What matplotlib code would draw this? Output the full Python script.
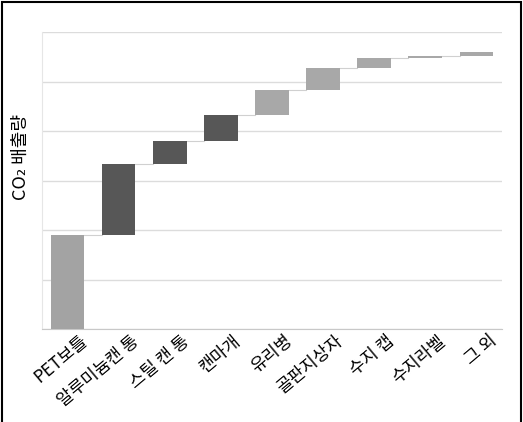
import matplotlib
matplotlib.use("Agg")
import matplotlib.pyplot as plt
import matplotlib.transforms as mtransforms
from matplotlib.patches import Rectangle
import numpy as np

plt.rcParams['font.family'] = ['Noto Sans CJK KR', 'DejaVu Sans']

categories = ["PET보틀", "알루미늄캔 통", "스틸 캔 통", "캔마개", "유리병",
              "골판지상자", "수지 캡", "수지라벨", "그 외"]
increments = [1.91, 1.42, 0.47, 0.53, 0.50, 0.45, 0.19, 0.05, 0.08]
groups = ["a", "b", "b", "b", "c", "c", "c", "c", "c"]
ylabel = "CO₂ 배출량"

group_colors = {"a": "#a3a3a3", "b": "#575757", "c": "#a8a8a8"}

inc = np.array(increments)
tops = np.cumsum(inc)
bottoms = tops - inc
x = np.arange(len(categories))

fig = plt.figure(figsize=(5.23, 4.22), dpi=100)
ax = fig.add_axes([0.080, 0.220, 0.880, 0.704])

colors = [group_colors[g] for g in groups]
width = 0.66
ax.bar(x, inc, bottom=bottoms, width=width, color=colors, edgecolor='none', zorder=3)

# connector lines
for i in range(len(x) - 1):
    ax.plot([x[i] + width / 2, x[i + 1] - width / 2], [tops[i], tops[i]],
            color='#d0d0d0', linewidth=0.8, zorder=2)

ax.set_xlim(-0.5, len(x) - 0.5)
ax.set_ylim(0, 6)
ax.set_yticks(np.arange(0, 7, 1))
ax.yaxis.grid(True, color='#dcdcdc', linewidth=1.0, zorder=0)
ax.set_axisbelow(True)
ax.tick_params(axis='y', length=0, labelleft=False)
ax.tick_params(axis='x', length=0, pad=2)

for s in ['top', 'right']:
    ax.spines[s].set_visible(False)
ax.spines['left'].set_color('#e6e6e6')
ax.spines['bottom'].set_color('#c8c8c8')

ax.set_xticks(x)
ax.set_xticklabels(categories, rotation=40, ha='right', va='top',
                   rotation_mode='anchor', fontsize=12.5)
offset = mtransforms.ScaledTranslation(12 / 100, 0, fig.dpi_scale_trans)
for lbl in ax.get_xticklabels():
    lbl.set_transform(lbl.get_transform() + offset)

ax.set_ylabel(ylabel, fontsize=13)
ax.yaxis.set_label_coords(-0.026, 0.58)

fig.patches.append(Rectangle((0.004, -0.01), 0.992, 1.005, transform=fig.transFigure,
                             fill=False, edgecolor='black', linewidth=1.5))

fig.savefig("out.png", dpi=100)
